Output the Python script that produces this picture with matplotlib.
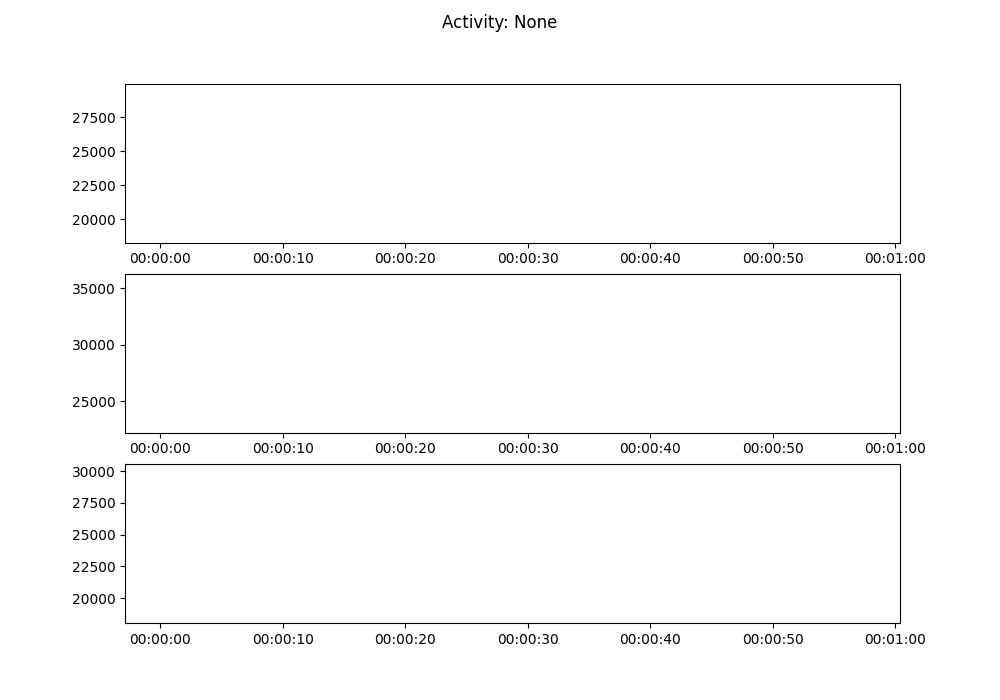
import matplotlib
matplotlib.use("Agg")
import matplotlib.pyplot as plt
from matplotlib.ticker import FuncFormatter, MultipleLocator

title = "Activity: None"
# time span (seconds) of the (empty) recordings
time_limits = [-2.875, 60.375]
# y-limits of each panel
y_limits_1 = [18294, 29949]
y_limits_2 = [22187, 36251]
y_limits_3 = [18032, 30520]
y_tick_step = [2500, 5000, 2500]


def hms(x, pos=None):
    s = int(round(x))
    sign = "-" if s < 0 else ""
    s = abs(s)
    return f"{sign}{s // 3600:02d}:{(s % 3600) // 60:02d}:{s % 60:02d}"


fig, axes = plt.subplots(3, 1, figsize=(10, 7), dpi=100)
fig.suptitle(title)
for ax, ylim, step in zip(axes, [y_limits_1, y_limits_2, y_limits_3], y_tick_step):
    ax.set_xlim(*time_limits)
    ax.set_ylim(*ylim)
    ax.xaxis.set_major_locator(MultipleLocator(10))
    ax.xaxis.set_major_formatter(FuncFormatter(hms))
    ax.yaxis.set_major_locator(MultipleLocator(step))

fig.savefig("out.png")
